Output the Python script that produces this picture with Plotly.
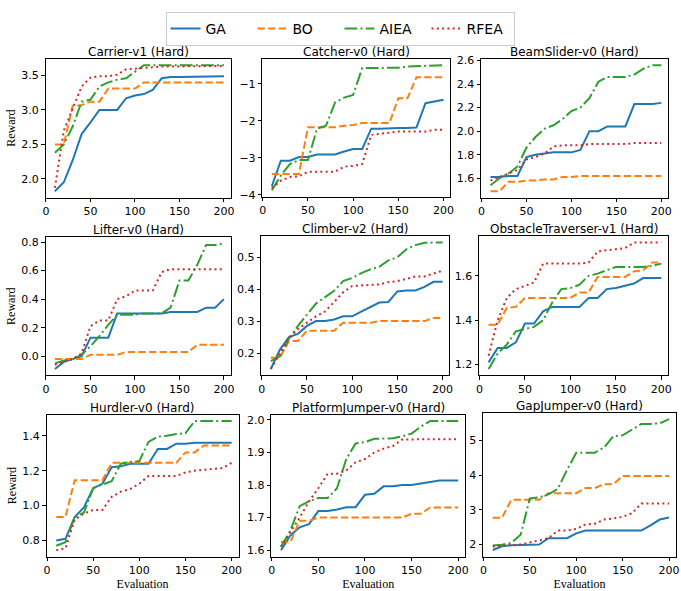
import plotly.graph_objects as go

evaluations = list(range(10, 201, 10))
methods = ["GA", "BO", "AIEA", "RFEA"]
titles = ["Carrier-v1 (Hard)", "Catcher-v0 (Hard)", "BeamSlider-v0 (Hard)",
          "Lifter-v0 (Hard)", "Climber-v2 (Hard)", "ObstacleTraverser-v1 (Hard)",
          "Hurdler-v0 (Hard)", "PlatformJumper-v0 (Hard)", "GapJumper-v0 (Hard)"]

carrier_ga = [1.82, 1.95, 2.27, 2.65, 2.82, 3.00, 3.00, 3.00, 3.17, 3.21, 3.23, 3.29, 3.46, 3.48, 3.48, 3.48, 3.48, 3.49, 3.49, 3.49]
carrier_bo = [2.50, 2.50, 3.06, 3.07, 3.12, 3.12, 3.31, 3.31, 3.31, 3.31, 3.40, 3.40, 3.40, 3.40, 3.40, 3.40, 3.40, 3.40, 3.40, 3.40]
carrier_aiea = [2.38, 2.50, 2.76, 3.12, 3.15, 3.34, 3.40, 3.44, 3.46, 3.56, 3.65, 3.65, 3.65, 3.65, 3.65, 3.65, 3.65, 3.65, 3.65, 3.65]
carrier_rfea = [1.87, 2.70, 3.02, 3.34, 3.47, 3.49, 3.49, 3.51, 3.59, 3.60, 3.61, 3.63, 3.63, 3.63, 3.63, 3.63, 3.63, 3.63, 3.64, 3.64]

catcher_ga = [-3.77, -3.08, -3.08, -2.98, -2.98, -2.91, -2.91, -2.91, -2.83, -2.76, -2.76, -2.21, -2.21, -2.19, -2.19, -2.19, -2.18, -1.52, -1.48, -1.43]
catcher_bo = [-3.44, -3.44, -3.44, -3.44, -2.17, -2.17, -2.17, -2.17, -2.13, -2.11, -2.06, -2.06, -2.06, -2.06, -1.39, -1.39, -0.82, -0.82, -0.82, -0.82]
catcher_aiea = [-3.88, -3.48, -3.17, -3.06, -3.06, -2.21, -2.13, -1.50, -1.37, -1.30, -0.57, -0.57, -0.57, -0.57, -0.56, -0.53, -0.52, -0.51, -0.50, -0.49]
catcher_rfea = [-3.82, -3.62, -3.52, -3.50, -3.38, -3.38, -3.38, -3.38, -3.24, -3.22, -3.17, -2.38, -2.35, -2.31, -2.29, -2.29, -2.29, -2.29, -2.24, -2.24]

beam_ga = [1.61, 1.61, 1.62, 1.62, 1.78, 1.80, 1.81, 1.82, 1.82, 1.82, 1.84, 2.00, 2.00, 2.04, 2.04, 2.04, 2.23, 2.23, 2.23, 2.24]
beam_bo = [1.49, 1.49, 1.57, 1.57, 1.58, 1.58, 1.59, 1.59, 1.61, 1.61, 1.62, 1.62, 1.62, 1.62, 1.62, 1.62, 1.62, 1.62, 1.62, 1.62]
beam_aiea = [1.54, 1.60, 1.64, 1.70, 1.86, 1.95, 2.02, 2.05, 2.10, 2.17, 2.20, 2.28, 2.42, 2.46, 2.46, 2.46, 2.48, 2.53, 2.56, 2.56]
beam_rfea = [1.58, 1.61, 1.64, 1.67, 1.76, 1.78, 1.81, 1.87, 1.88, 1.88, 1.88, 1.89, 1.89, 1.89, 1.89, 1.89, 1.90, 1.90, 1.90, 1.90]

lifter_ga = [-0.09, -0.04, -0.02, 0.00, 0.13, 0.13, 0.13, 0.30, 0.30, 0.30, 0.30, 0.30, 0.30, 0.31, 0.31, 0.31, 0.31, 0.34, 0.34, 0.40]
lifter_bo = [-0.02, -0.02, -0.02, -0.02, 0.01, 0.01, 0.01, 0.01, 0.03, 0.03, 0.03, 0.03, 0.03, 0.03, 0.03, 0.03, 0.08, 0.08, 0.08, 0.08]
lifter_aiea = [-0.05, -0.03, -0.02, 0.01, 0.07, 0.14, 0.22, 0.29, 0.29, 0.29, 0.30, 0.30, 0.30, 0.34, 0.53, 0.53, 0.64, 0.78, 0.78, 0.79]
lifter_rfea = [-0.06, -0.04, -0.02, 0.02, 0.21, 0.25, 0.25, 0.40, 0.42, 0.46, 0.46, 0.46, 0.59, 0.61, 0.61, 0.61, 0.61, 0.61, 0.61, 0.61]

climber_ga = [0.150, 0.210, 0.250, 0.260, 0.285, 0.300, 0.300, 0.305, 0.315, 0.315, 0.330, 0.345, 0.358, 0.360, 0.393, 0.396, 0.396, 0.407, 0.423, 0.423]
climber_bo = [0.185, 0.185, 0.237, 0.238, 0.270, 0.270, 0.270, 0.270, 0.295, 0.295, 0.295, 0.295, 0.300, 0.300, 0.300, 0.300, 0.300, 0.300, 0.310, 0.310]
climber_aiea = [0.175, 0.190, 0.245, 0.285, 0.320, 0.355, 0.375, 0.395, 0.425, 0.435, 0.450, 0.462, 0.470, 0.490, 0.500, 0.525, 0.538, 0.545, 0.546, 0.546]
climber_rfea = [0.150, 0.200, 0.245, 0.275, 0.295, 0.315, 0.330, 0.360, 0.390, 0.410, 0.412, 0.412, 0.415, 0.422, 0.425, 0.432, 0.440, 0.440, 0.448, 0.458]

obst_ga = [1.21, 1.275, 1.275, 1.30, 1.385, 1.385, 1.44, 1.46, 1.46, 1.46, 1.46, 1.50, 1.50, 1.54, 1.545, 1.555, 1.565, 1.59, 1.59, 1.59]
obst_bo = [1.38, 1.38, 1.455, 1.46, 1.50, 1.50, 1.50, 1.50, 1.50, 1.50, 1.525, 1.525, 1.595, 1.595, 1.595, 1.595, 1.62, 1.625, 1.66, 1.66]
obst_aiea = [1.18, 1.25, 1.29, 1.35, 1.36, 1.37, 1.40, 1.48, 1.54, 1.545, 1.56, 1.60, 1.61, 1.625, 1.64, 1.64, 1.64, 1.64, 1.645, 1.655]
obst_rfea = [1.24, 1.40, 1.50, 1.54, 1.555, 1.57, 1.655, 1.655, 1.655, 1.655, 1.655, 1.66, 1.71, 1.715, 1.72, 1.725, 1.75, 1.75, 1.75, 1.75]

hurdler_ga = [0.80, 0.81, 0.935, 0.99, 1.10, 1.125, 1.22, 1.225, 1.24, 1.24, 1.24, 1.325, 1.325, 1.355, 1.355, 1.36, 1.36, 1.36, 1.36, 1.36]
hurdler_bo = [0.935, 0.935, 1.145, 1.145, 1.145, 1.145, 1.245, 1.245, 1.245, 1.245, 1.245, 1.245, 1.245, 1.245, 1.305, 1.305, 1.345, 1.345, 1.345, 1.345]
hurdler_aiea = [0.77, 0.79, 0.935, 0.96, 1.10, 1.12, 1.14, 1.24, 1.25, 1.255, 1.365, 1.395, 1.40, 1.41, 1.415, 1.485, 1.485, 1.485, 1.485, 1.485]
hurdler_rfea = [0.745, 0.755, 0.92, 0.955, 0.975, 0.975, 1.05, 1.08, 1.095, 1.125, 1.17, 1.17, 1.17, 1.17, 1.19, 1.20, 1.205, 1.21, 1.215, 1.245]

platform_ga = [1.600, 1.645, 1.670, 1.680, 1.720, 1.720, 1.725, 1.732, 1.732, 1.770, 1.773, 1.796, 1.796, 1.800, 1.800, 1.805, 1.810, 1.814, 1.814, 1.814]
platform_bo = [1.625, 1.625, 1.690, 1.690, 1.700, 1.700, 1.700, 1.700, 1.700, 1.700, 1.700, 1.700, 1.700, 1.700, 1.712, 1.712, 1.731, 1.731, 1.731, 1.731]
platform_aiea = [1.610, 1.660, 1.735, 1.750, 1.760, 1.760, 1.790, 1.880, 1.928, 1.932, 1.942, 1.944, 1.944, 1.950, 1.958, 1.980, 1.997, 1.997, 1.997, 1.997]
platform_rfea = [1.610, 1.655, 1.700, 1.750, 1.790, 1.835, 1.835, 1.845, 1.870, 1.880, 1.900, 1.912, 1.920, 1.940, 1.941, 1.941, 1.941, 1.941, 1.941, 1.941]

gap_ga = [1.84, 1.95, 1.98, 1.98, 2.00, 2.00, 2.18, 2.18, 2.18, 2.32, 2.40, 2.40, 2.40, 2.40, 2.40, 2.40, 2.40, 2.55, 2.72, 2.78]
gap_bo = [2.77, 2.77, 3.29, 3.29, 3.29, 3.29, 3.48, 3.48, 3.48, 3.48, 3.63, 3.63, 3.74, 3.74, 3.98, 3.98, 3.98, 3.98, 3.98, 3.98]
gap_aiea = [1.97, 1.99, 2.05, 2.28, 3.33, 3.36, 3.45, 3.60, 4.15, 4.65, 4.65, 4.65, 4.80, 5.13, 5.15, 5.31, 5.48, 5.48, 5.50, 5.62]
gap_rfea = [1.94, 1.97, 1.98, 2.00, 2.06, 2.13, 2.18, 2.40, 2.40, 2.45, 2.58, 2.60, 2.72, 2.75, 2.80, 2.90, 3.18, 3.18, 3.18, 3.18]

panels = [
    [carrier_ga, carrier_bo, carrier_aiea, carrier_rfea],
    [catcher_ga, catcher_bo, catcher_aiea, catcher_rfea],
    [beam_ga, beam_bo, beam_aiea, beam_rfea],
    [lifter_ga, lifter_bo, lifter_aiea, lifter_rfea],
    [climber_ga, climber_bo, climber_aiea, climber_rfea],
    [obst_ga, obst_bo, obst_aiea, obst_rfea],
    [hurdler_ga, hurdler_bo, hurdler_aiea, hurdler_rfea],
    [platform_ga, platform_bo, platform_aiea, platform_rfea],
    [gap_ga, gap_bo, gap_aiea, gap_rfea],
]

# styling (not data)
colors = ["#1f77b4", "#ff7f0e", "#2ca02c", "#d62728"]
dashes = ["solid", "7.4px,3.2px", "12.8px,3.2px,2px,3.2px", "2px,3.3px"]
ydticks = [0.5, 1, 0.2, 0.2, 0.1, 0.2, 0.2, 0.1, 1]
yfmts = [".1f", "d", ".1f", ".1f", ".1f", ".1f", ".1f", ".1f", "d"]

W, H = 681, 591
# pixel boxes: left, right, top, bottom
boxes = [
    (43, 230, 55, 196.5), (262, 452, 55, 195.5), (483, 672, 55, 196.5),
    (43, 230, 237, 378), (261, 451, 236, 378), (481, 672, 236, 378),
    (44, 238, 418, 563), (271, 467, 418, 563), (485, 680, 416, 563),
]

fig = go.Figure()
tickfont = dict(family="DejaVu Sans", size=11, color="black")
serif = dict(family="Liberation Serif", size=12, color="black")

for i, series in enumerate(panels):
    n = i + 1
    xa = "x" if n == 1 else f"x{n}"
    ya = "y" if n == 1 else f"y{n}"
    for j, vals in enumerate(series):
        fig.add_trace(go.Scatter(
            x=evaluations, y=vals, mode="lines", name=methods[j],
            line=dict(color=colors[j], width=2, dash=dashes[j]),
            xaxis=xa, yaxis=ya, showlegend=(i == 0), legendgroup=methods[j],
        ))
    allv = [v for s in series for v in s]
    lo, hi = min(allv), max(allv)
    pad = 0.05 * (hi - lo)
    l, r, t, b = boxes[i]
    xkey = "xaxis" if n == 1 else f"xaxis{n}"
    ykey = "yaxis" if n == 1 else f"yaxis{n}"
    fig.layout[xkey] = dict(
        domain=[l / W, r / W], anchor=ya, range=[-0.5, 207.5],
        tick0=0, dtick=50, showgrid=False, zeroline=False,
        showline=True, mirror=True, linecolor="black", linewidth=1,
        ticks="outside", ticklen=3.5, tickcolor="black", tickfont=tickfont,
        title=dict(text="Evaluation" if i >= 6 else "", font=serif, standoff=5),
    )
    fig.layout[ykey] = dict(
        domain=[1 - b / H, 1 - t / H], anchor=xa, range=[lo - pad, hi + pad],
        tick0=0, dtick=ydticks[i], tickformat=yfmts[i], showgrid=False, zeroline=False,
        showline=True, mirror=True, linecolor="black", linewidth=1,
        ticks="outside", ticklen=3.5, tickcolor="black", tickfont=tickfont,
        title=dict(text="Reward" if i % 3 == 0 else "", font=serif, standoff=3),
    )
    fig.add_annotation(
        text=titles[i], x=(l + r) / 2 / W, y=1 - t / H, xref="paper", yref="paper",
        xanchor="center", yanchor="bottom", showarrow=False, yshift=-2,
        font=dict(family="DejaVu Sans", size=12, color="black"),
    )

fig.update_layout(
    width=W, height=H, margin=dict(l=0, r=0, t=0, b=0),
    paper_bgcolor="white", plot_bgcolor="white",
    legend=dict(orientation="h", x=0.5, xanchor="center", y=1 - 7 / H, yanchor="top",
                bordercolor="#cccccc", borderwidth=1,
                font=dict(family="DejaVu Sans", size=14, color="black"),
                entrywidth=42, tracegroupgap=0),
)

fig.write_html("out.html")
